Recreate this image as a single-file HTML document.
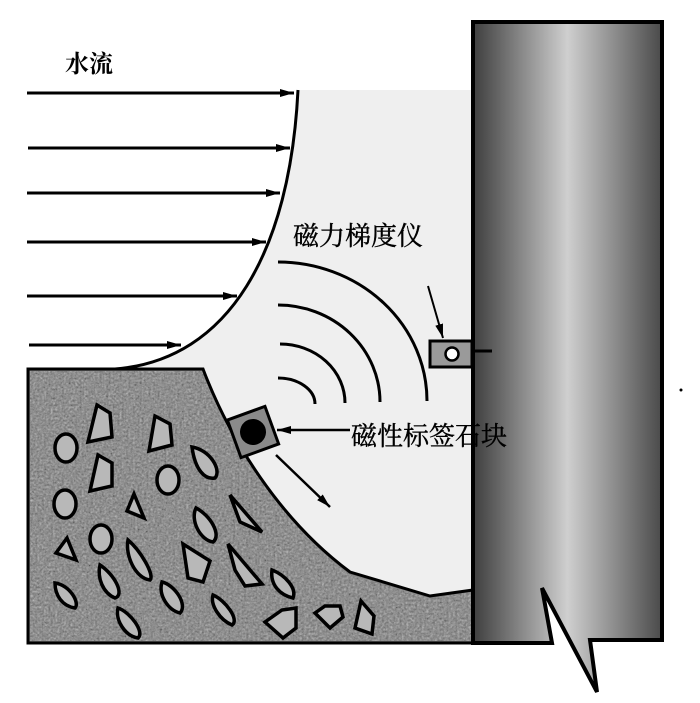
<!DOCTYPE html>
<html><head><meta charset="utf-8"><style>
html,body{margin:0;padding:0;background:#fff;width:700px;height:703px;overflow:hidden}
svg text{font-family:"Liberation Serif","Noto Serif CJK SC",serif}
</style></head><body>
<svg width="700" height="703" viewBox="0 0 700 703" xmlns="http://www.w3.org/2000/svg">
<defs>
<linearGradient id="pg" x1="0" x2="1" y1="0" y2="0">
<stop offset="0" stop-color="#3e3e3e"/><stop offset="0.5" stop-color="#cfcfcf"/><stop offset="1" stop-color="#4a4a4a"/>
</linearGradient>
<filter id="noise" x="0" y="0" width="100%" height="100%">
<feTurbulence type="fractalNoise" baseFrequency="0.45" numOctaves="2" seed="3" result="t"/>
<feColorMatrix type="saturate" values="0" in="t" result="g"/>
<feComponentTransfer in="g" result="c"><feFuncR type="linear" slope="1.6" intercept="-0.35"/><feFuncG type="linear" slope="1.6" intercept="-0.35"/><feFuncB type="linear" slope="1.6" intercept="-0.35"/></feComponentTransfer>
<feComposite in="c" in2="SourceGraphic" operator="in"/>
</filter>
<marker id="ah" markerWidth="14" markerHeight="8" refX="14" refY="4" orient="auto" markerUnits="userSpaceOnUse">
<path d="M0,0 L14,4 L0,8 Z" fill="#000"/></marker>
</defs>
<path d="M298,90 L473,90 L473,592 L430,596 L350,572 C280,520 230,440 203,369 L120,369 C230,355 290,250 298,90 Z" fill="#efefef"/>
<path d="M28,369 L203,369 C230,440 280,520 350,572 L430,596 L473,590 L473,643 L28,643 Z" fill="#7c7c7c" stroke="#000" stroke-width="3"/>
<path d="M30,371 L202,371 C229,441 279,521 349,574 L430,598 L471,592 L471,641 L30,641 Z" fill="#888" filter="url(#noise)" opacity="0.7"/>
<g fill="#b8b8b8" stroke="#000" stroke-width="3.5">
<polygon points="97,405 110,413 112,437 88,442"/>
<polygon points="155,416 170,424 172,445 149,451"/>
<ellipse cx="66" cy="448" rx="11" ry="14"/>
<polygon points="98,455 112,463 112,486 90,491"/>
<ellipse cx="168" cy="480" rx="11" ry="14"/>
<path d="M192,447 C210,450 222,470 215,478 C205,480 195,470 192,447 Z"/>
<ellipse cx="65" cy="504" rx="11" ry="14"/>
<polygon points="134,494 144,518 127,511"/>
<path d="M196,508 C210,515 222,535 213,542 C200,540 190,520 196,508 Z"/>
<polygon points="230,495 262,532 240,522"/>
<ellipse cx="101" cy="539" rx="11" ry="14"/>
<polygon points="67,538 76,560 56,553"/>
<path d="M128,540 C140,550 155,575 150,580 C135,578 125,555 128,540 Z"/>
<polygon points="183,544 210,561 203,582 188,578"/>
<polygon points="228,544 262,584 245,586 235,570"/>
<path d="M100,565 C115,575 125,595 115,598 C103,593 97,578 100,565 Z"/>
<path d="M55,583 C70,585 80,603 75,608 C62,606 55,595 55,583 Z"/>
<path d="M162,582 C175,585 188,605 180,613 C168,610 158,595 162,582 Z"/>
<path d="M213,595 C225,600 240,620 232,625 C220,620 210,605 213,595 Z"/>
<path d="M272,570 C285,575 297,588 293,598 C280,595 270,585 272,570 Z"/>
<path d="M118,608 C130,612 145,632 138,638 C125,636 115,620 118,608 Z"/>
<polygon points="265,622 282,610 296,608 296,628 283,638"/>
<polygon points="315,613 325,606 340,606 343,617 330,628"/>
<polygon points="361,601 374,616 372,634 355,628"/>
</g>
<polygon points="473,22 662,22 662,640 590,640 597,692 542,588 552,643 473,643" fill="url(#pg)" stroke="#000" stroke-width="4" stroke-linejoin="miter"/>
<path d="M298,90 C290,250 230,360 115,369" fill="none" stroke="#000" stroke-width="3"/>
<g stroke="#000" stroke-width="3" marker-end="url(#ah)">
<line x1="27" y1="93" x2="294" y2="93"/>
<line x1="28" y1="148" x2="290" y2="148"/>
<line x1="27" y1="193" x2="280" y2="193"/>
<line x1="27" y1="242" x2="266" y2="242"/>
<line x1="27" y1="296" x2="237" y2="296"/>
<line x1="29" y1="345" x2="181" y2="345"/>
</g>
<g fill="none" stroke="#000" stroke-width="3">
<path d="M278,262 A149,139 0 0 1 427,401"/>
<path d="M278,305 A102,97 0 0 1 380,402"/>
<path d="M280,344 A65,59 0 0 1 345,403"/>
<path d="M278,378 A37,26 0 0 1 315,404"/>
</g>
<line x1="428" y1="286" x2="443" y2="338" stroke="#000" stroke-width="2" marker-end="url(#ah)"/>
<rect x="430" y="341" width="42" height="26" fill="#9a9a9a" stroke="#000" stroke-width="3"/>
<circle cx="452" cy="354" r="6.5" fill="#fff" stroke="#000" stroke-width="2.5"/>
<line x1="472" y1="351" x2="492" y2="351" stroke="#000" stroke-width="3"/>
<g transform="translate(253,432) rotate(-20)">
<rect x="-20" y="-20" width="40" height="40" fill="#8a8a8a" stroke="#000" stroke-width="3"/>
<circle cx="0" cy="0" r="13" fill="#000"/>
</g>
<line x1="350" y1="430" x2="277" y2="430" stroke="#000" stroke-width="2.5" marker-end="url(#ah)"/>
<line x1="276" y1="455" x2="330" y2="507" stroke="#000" stroke-width="2.5" marker-end="url(#ah)"/>
<text x="65" y="72" font-size="24" font-weight="bold">水流</text>
<text x="293" y="245" font-size="26" stroke="#000" stroke-width="0.4">磁力梯度仪</text>
<text x="351" y="445" font-size="26" stroke="#000" stroke-width="0.4">磁性标签石块</text>
<circle cx="681" cy="390" r="1.5" fill="#000"/>
</svg>
</body></html>
